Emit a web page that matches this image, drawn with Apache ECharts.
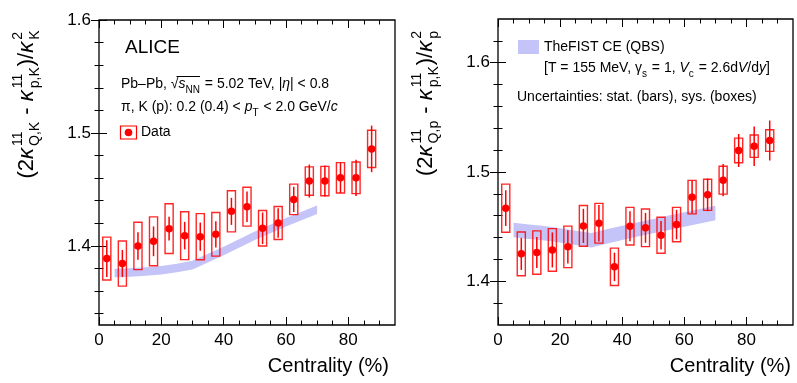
<!DOCTYPE html>
<html>
<head>
<meta charset="utf-8">
<script src="https://cdn.jsdelivr.net/npm/echarts@6/dist/echarts.min.js"></script>
<style>
  html, body { margin: 0; padding: 0; background: #fff; }
  #chart { width: 797px; height: 383px; }
</style>
</head>
<body>
<div id="chart"></div>
<script>
// centrality bin centres (%)
const centrality = [2.5, 7.5, 12.5, 17.5, 22.5, 27.5, 32.5, 37.5, 42.5, 47.5, 52.5, 57.5, 62.5, 67.5, 72.5, 77.5, 82.5, 87.5]

// left panel: (2k11_Q,K - k11_p,K)/k2_K
const kaonVal = [1.3888, 1.3844, 1.400, 1.4041, 1.4153, 1.4091, 1.4082, 1.4103, 1.4306, 1.4347, 1.4156, 1.4203, 1.4412, 1.4574, 1.4574, 1.4603, 1.4603, 1.4859]
const kaonStat = [0.0163, 0.012, 0.0122, 0.0132, 0.0106, 0.0122, 0.0125, 0.0116, 0.012, 0.0135, 0.014, 0.013, 0.0112, 0.0146, 0.0137, 0.0135, 0.016, 0.0206]
const kaonSys = [0.019, 0.020, 0.021, 0.0216, 0.022, 0.0212, 0.0204, 0.0193, 0.0182, 0.0172, 0.0157, 0.0146, 0.0135, 0.0126, 0.013, 0.0134, 0.014, 0.0165]

// right panel: (2k11_Q,p - k11_p,K)/k2_p
const protonVal = [1.4669, 1.4251, 1.4263, 1.4287, 1.4315, 1.4507, 1.4531, 1.4132, 1.4504, 1.4489, 1.4421, 1.4519, 1.477, 1.4791, 1.4925, 1.5197, 1.5236, 1.5288]
const protonStat = [0.0163, 0.0147, 0.0142, 0.016, 0.0153, 0.0156, 0.0166, 0.013, 0.0137, 0.0137, 0.0131, 0.0135, 0.015, 0.015, 0.0148, 0.0151, 0.018, 0.0183]
const protonSys = [0.022, 0.020, 0.0198, 0.0195, 0.019, 0.0186, 0.0182, 0.0171, 0.0172, 0.0172, 0.0165, 0.0157, 0.0153, 0.0142, 0.0127, 0.0113, 0.0102, 0.0099]

// TheFIST CE (QBS) band
const kaonBandX = [5, 10, 15, 20, 25, 30, 40, 50, 60, 70]
const kaonBandMid = [1.376, 1.3765, 1.3773, 1.3785, 1.3805, 1.383, 1.3955, 1.409, 1.421, 1.432]
const kaonBandHalf = 0.0038
const protonBandX = [5, 10, 15, 20, 25, 30, 35, 40, 45, 50, 55, 60, 65, 70]
const protonBandMid = [1.4469, 1.4453, 1.4439, 1.442, 1.4397, 1.4375, 1.441, 1.4443, 1.4475, 1.4505, 1.4535, 1.4565, 1.4595, 1.4625]
const protonBandHalf = 0.0066

// axis ticks
const xMajor = [0, 20, 40, 60, 80]
const xMinor = [5, 10, 15, 25, 30, 35, 45, 50, 55, 65, 70, 75, 85, 90]
const kaonYMajor = [1.4, 1.5, 1.6]
const kaonYMinor = [1.34, 1.36, 1.38, 1.42, 1.44, 1.46, 1.48, 1.52, 1.54, 1.56, 1.58]
const protonYMajor = [1.4, 1.5, 1.6]
const protonYMinor = [1.38, 1.42, 1.44, 1.46, 1.48, 1.52, 1.54, 1.56, 1.58, 1.62]

const RED = '#ff0000'
const BAND = '#c4c4f8'
const FONT = '"Liberation Sans", Arial, sans-serif'
const boxHalf = 1.3

const chart = echarts.init(document.getElementById('chart'), null, { renderer: 'canvas' })

const xAxesFor = (g) => {
    const base = {
        gridIndex: g, type: 'value', min: 0, max: 95,
        axisLine: { show: false }, splitLine: { show: false }
    }
    return [
        { ...base, position: 'bottom',
          axisTick: { inside: true, length: 8, customValues: xMajor, lineStyle: { color: '#000' } },
          axisLabel: { customValues: xMajor, margin: 7, fontSize: 17, color: '#000', fontFamily: FONT } },
        { ...base, position: 'bottom',
          axisTick: { inside: true, length: 4.5, customValues: xMinor, lineStyle: { color: '#000' } },
          axisLabel: { show: false } },
        { ...base, position: 'top',
          axisTick: { inside: true, length: 8, customValues: xMajor, lineStyle: { color: '#000' } },
          axisLabel: { show: false } },
        { ...base, position: 'top',
          axisTick: { inside: true, length: 4.5, customValues: xMinor, lineStyle: { color: '#000' } },
          axisLabel: { show: false } }
    ]
}

const yAxesFor = (g, min, max, major, minor) => {
    const base = {
        gridIndex: g, type: 'value', min: min, max: max,
        axisLine: { show: false }, splitLine: { show: false }
    }
    return [
        { ...base, position: 'left',
          axisTick: { inside: true, length: 8, customValues: major, lineStyle: { color: '#000' } },
          axisLabel: { customValues: major, margin: 8, fontSize: 17, color: '#000', fontFamily: FONT,
                       formatter: v => v.toFixed(1) } },
        { ...base, position: 'left',
          axisTick: { inside: true, length: 4.5, customValues: minor, lineStyle: { color: '#000' } },
          axisLabel: { show: false } },
        { ...base, position: 'right',
          axisTick: { inside: true, length: 8, customValues: major, lineStyle: { color: '#000' } },
          axisLabel: { show: false } },
        { ...base, position: 'right',
          axisTick: { inside: true, length: 4.5, customValues: minor, lineStyle: { color: '#000' } },
          axisLabel: { show: false } }
    ]
}

// band polygon, drawn once from all points
const bandSeries = (axisIdx, xs, mid, half) => ({
    type: 'custom',
    xAxisIndex: axisIdx, yAxisIndex: axisIdx,
    data: xs.map((x, i) => [x, mid[i]]),
    silent: true,
    z: 1,
    renderItem: (params, api) => {
        if (params.dataIndex !== 0) return null
        const upper = xs.map((x, i) => api.coord([x, mid[i] + half]))
        const lower = xs.map((x, i) => api.coord([x, mid[i] - half])).reverse()
        return {
            type: 'polygon',
            shape: { points: upper.concat(lower) },
            style: { fill: BAND, stroke: null }
        }
    }
})

const sysSeries = (axisIdx, vals, sys) => ({
    type: 'custom',
    xAxisIndex: axisIdx, yAxisIndex: axisIdx,
    data: centrality.map((c, i) => [c, vals[i] - sys[i], vals[i] + sys[i]]),
    z: 3,
    renderItem: (params, api) => {
        const p1 = api.coord([api.value(0) - boxHalf, api.value(2)])
        const p2 = api.coord([api.value(0) + boxHalf, api.value(1)])
        return {
            type: 'rect',
            shape: { x: p1[0], y: p1[1], width: p2[0] - p1[0], height: p2[1] - p1[1] },
            style: { fill: 'none', stroke: RED, lineWidth: 1.4, opacity: 0.85 }
        }
    }
})

const statSeries = (axisIdx, vals, stat) => ({
    type: 'custom',
    xAxisIndex: axisIdx, yAxisIndex: axisIdx,
    data: centrality.map((c, i) => [c, vals[i] - stat[i], vals[i] + stat[i]]),
    z: 4,
    renderItem: (params, api) => {
        const lo = api.coord([api.value(0), api.value(1)])
        const hi = api.coord([api.value(0), api.value(2)])
        return {
            type: 'line',
            shape: { x1: lo[0], y1: lo[1], x2: hi[0], y2: hi[1] },
            style: { stroke: RED, lineWidth: 1.5 }
        }
    }
})

const pointSeries = (axisIdx, vals) => ({
    type: 'scatter',
    xAxisIndex: axisIdx, yAxisIndex: axisIdx,
    data: centrality.map((c, i) => [c, vals[i]]),
    symbol: 'circle',
    symbolSize: 7.5,
    itemStyle: { color: RED, opacity: 1 },
    z: 5
})

// rotated y titles with stacked super/subscripts
const measureCtx = document.createElement('canvas').getContext('2d')
const textWidth = (t, font) => {
    measureCtx.font = font
    return measureCtx.measureText(t).width
}

const buildTitle = (pieces, cx, cy, size) => {
    const small = Math.round(size * 0.62)
    const mainFont = size + 'px ' + FONT
    const kFont = 'italic ' + size + 'px ' + FONT
    const smallFont = small + 'px ' + FONT
    let pos = 0
    const children = []
    pieces.forEach(p => {
        if (p.main !== undefined || p.k) {
            const font = p.k ? kFont : mainFont
            const t = p.k ? 'κ' : p.main
            children.push({ type: 'text', x: pos, y: 0,
                style: { text: t, font: font, fill: '#000', verticalAlign: 'middle' } })
            pos += textWidth(t, font) + (p.k ? 1 : 0)
        } else {
            children.push({ type: 'text', x: pos + 1, y: -size * 0.42,
                style: { text: p.sup, font: smallFont, fill: '#000', verticalAlign: 'middle' } })
            children.push({ type: 'text', x: pos + 1, y: size * 0.38,
                style: { text: p.sub, font: smallFont, fill: '#000', verticalAlign: 'middle' } })
            pos += Math.max(textWidth(p.sup, smallFont), textWidth(p.sub, smallFont)) + 2
        }
    })
    return {
        type: 'group',
        x: cx, y: cy + pos / 2,
        rotation: Math.PI / 2,
        children: children
    }
}

const kaonTitle = [
    { main: '(2' }, { k: true }, { sup: '11', sub: 'Q,K' }, { main: ' - ' }, { k: true }, { sup: '11', sub: 'p,K' },
    { main: ')/' }, { k: true }, { sup: '2', sub: 'K' }
]
const protonTitle = [
    { main: '(2' }, { k: true }, { sup: '11', sub: 'Q,p' }, { main: ' - ' }, { k: true }, { sup: '11', sub: 'p,K' },
    { main: ')/' }, { k: true }, { sup: '2', sub: 'p' }
]

const small = { fontSize: 14, fontFamily: FONT, color: '#000', lineHeight: 22, verticalAlign: 'middle' }
const richStyles = {
    n: { ...small },
    it: { ...small, fontStyle: 'italic' },
    sub: { fontSize: 10, fontFamily: FONT, color: '#000', lineHeight: 10, verticalAlign: 'bottom', padding: [0, 1, 0, 0] }
}

const label = (x, y, rich) => ({
    type: 'text', x: x, y: y,
    style: { text: rich, rich: richStyles, font: '14px ' + FONT, fill: '#000', verticalAlign: 'middle' }
})

const option = {
    animation: false,
    backgroundColor: '#fff',
    grid: [
        { left: 99, top: 20, width: 296, height: 305, show: true, borderColor: '#000', borderWidth: 1.3, backgroundColor: 'transparent' },
        { left: 498, top: 19, width: 295, height: 306, show: true, borderColor: '#000', borderWidth: 1.3, backgroundColor: 'transparent' }
    ],
    xAxis: xAxesFor(0).concat(xAxesFor(1)),
    yAxis: yAxesFor(0, 1.33, 1.6, kaonYMajor, kaonYMinor).concat(yAxesFor(1, 1.36, 1.64, protonYMajor, protonYMinor)),
    series: [
        bandSeries(0, kaonBandX, kaonBandMid, kaonBandHalf),
        sysSeries(0, kaonVal, kaonSys),
        statSeries(0, kaonVal, kaonStat),
        pointSeries(0, kaonVal),
        bandSeries(4, protonBandX, protonBandMid, protonBandHalf),
        sysSeries(4, protonVal, protonSys),
        statSeries(4, protonVal, protonStat),
        pointSeries(4, protonVal)
    ],
    graphic: [
        buildTitle(kaonTitle, 27, 104, 22),
        buildTitle(protonTitle, 426, 103, 22),
        { type: 'text', right: 797 - 389, top: 356,
          style: { text: 'Centrality (%)', font: '20px ' + FONT, fill: '#000' } },
        { type: 'text', right: 797 - 791, top: 356,
          style: { text: 'Centrality (%)', font: '20px ' + FONT, fill: '#000' } },
        // left panel annotations
        { type: 'text', x: 125, y: 48,
          style: { text: 'ALICE', font: '19px ' + FONT, fill: '#000', verticalAlign: 'middle' } },
        label(121, 84, '{n|Pb–Pb, √}{it|s}{sub|NN}{n| = 5.02 TeV, |}{it|η}{n|| < 0.8}'),
        { type: 'line', shape: { x1: 176.5, y1: 76.5, x2: 200, y2: 76.5 }, style: { stroke: '#000', lineWidth: 1 } },
        label(121, 107, '{n|π, K (p): 0.2 (0.4) < }{it|p}{sub|T}{n| < 2.0 GeV/}{it|c}'),
        { type: 'rect', shape: { x: 120.5, y: 126, width: 16, height: 13 }, style: { fill: 'none', stroke: RED, lineWidth: 1.2 } },
        { type: 'circle', shape: { cx: 128.5, cy: 132.5, r: 3.8 }, style: { fill: RED } },
        { type: 'text', x: 141, y: 132.5,
          style: { text: 'Data', font: '14px ' + FONT, fill: '#000', verticalAlign: 'middle' } },
        // right panel legend
        { type: 'rect', shape: { x: 518, y: 40, width: 21, height: 14 }, style: { fill: BAND } },
        { type: 'text', x: 544, y: 47,
          style: { text: 'TheFIST CE (QBS)', font: '14px ' + FONT, fill: '#000', verticalAlign: 'middle' } },
        label(544, 68, '{n|[T = 155 MeV, γ}{sub|s}{n| = 1, }{it|V}{sub|c}{n| = 2.6d}{it|V}{n|/d}{it|y}{n|]}'),
        { type: 'text', x: 517, y: 97,
          style: { text: 'Uncertainties: stat. (bars), sys. (boxes)', font: '14px ' + FONT, fill: '#000', verticalAlign: 'middle' } }
    ]
}

chart.setOption(option)
</script>
</body>
</html>
